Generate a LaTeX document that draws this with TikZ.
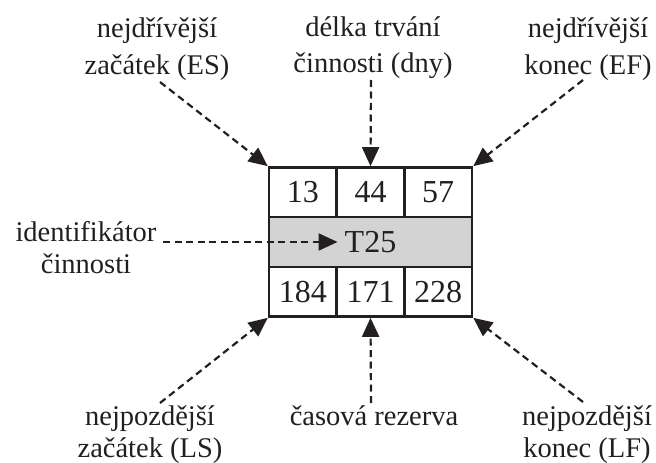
\documentclass[tikz,border=0pt]{standalone}
\usepackage{fontspec}
\setmainfont{Liberation Serif}
\usetikzlibrary{arrows.meta}
\definecolor{cellgrey}{HTML}{D3D3D3}
\definecolor{ink}{HTML}{231F20}
\tikzset{
  cell/.style={draw=ink, line width=2.4pt, minimum width=67.7pt, minimum height=49.7pt, inner sep=0pt, font=\fontsize{32}{36}\selectfont, text=ink},
  widecell/.style={cell, fill=cellgrey, minimum width=203pt},
  lbl/.style={text=ink, inner sep=0pt, align=center, anchor=base, font=\fontsize{28.5}{36}\selectfont},
  lblb/.style={lbl, font=\fontsize{28.5}{32}\selectfont},
  dasharrow/.style={draw=ink, line width=2.2pt, dash pattern=on 7pt off 4.5pt, -{Triangle[length=19pt,width=17pt]}, shorten >=0pt}
}
\begin{document}
\begin{tikzpicture}[x=1pt,y=-1pt]
\useasboundingbox (0,0) rectangle (656,463);
% box
\node[widecell] (t) at (370.5,242) {};
\node[cell] (es) at (302.8,192.2) {13};
\node[cell] (du) at (370.5,192.2) {44};
\node[cell] (ef) at (438.2,192.2) {57};
\node[cell] (ls) at (302.8,291.8) {184};
\node[cell] (sl) at (370.5,291.8) {171};
\node[cell] (lf) at (438.2,291.8) {228};
\node[text=ink, inner sep=0pt, font=\fontsize{32}{36}\selectfont] (tid) at (370.5,242) {T25};
% labels (anchor = baseline of the last line)
\node[lbl] (l1) at (157,74) {nejdřívější\\začátek (ES)};
\node[lbl] (l2) at (373,72) {délka trvání\\činnosti (dny)};
\node[lbl] (l3) at (588,74) {nejdřívější\\konec (EF)};
\node[lblb] (l4) at (86,273) {identifikátor\\činnosti};
\node[lblb] (l5) at (150,457) {nejpozdější\\začátek (LS)};
\node[lblb] (l6) at (374,425) {časová rezerva};
\node[lblb] (l7) at (587,457) {nejpozdější\\konec (LF)};
% arrow start points
\coordinate (s1) at (160,82);
\coordinate (s2) at (371,80);
\coordinate (s3) at (583,80);
\coordinate (s4) at (163,242);
\coordinate (s5) at (160,403);
\coordinate (s6) at (371,403);
\coordinate (s7) at (583,402);
% arrows
\draw[dasharrow] (s1) -- (es.north west);
\draw[dasharrow] (s2) -- (du.north);
\draw[dasharrow] (s3) -- (ef.north east);
\draw[dasharrow] (s4) -- ([xshift=-7pt]tid.west);
\draw[dasharrow] (s5) -- (ls.south west);
\draw[dasharrow] (s6) -- (sl.south);
\draw[dasharrow] (s7) -- (lf.south east);
\end{tikzpicture}
\end{document}
